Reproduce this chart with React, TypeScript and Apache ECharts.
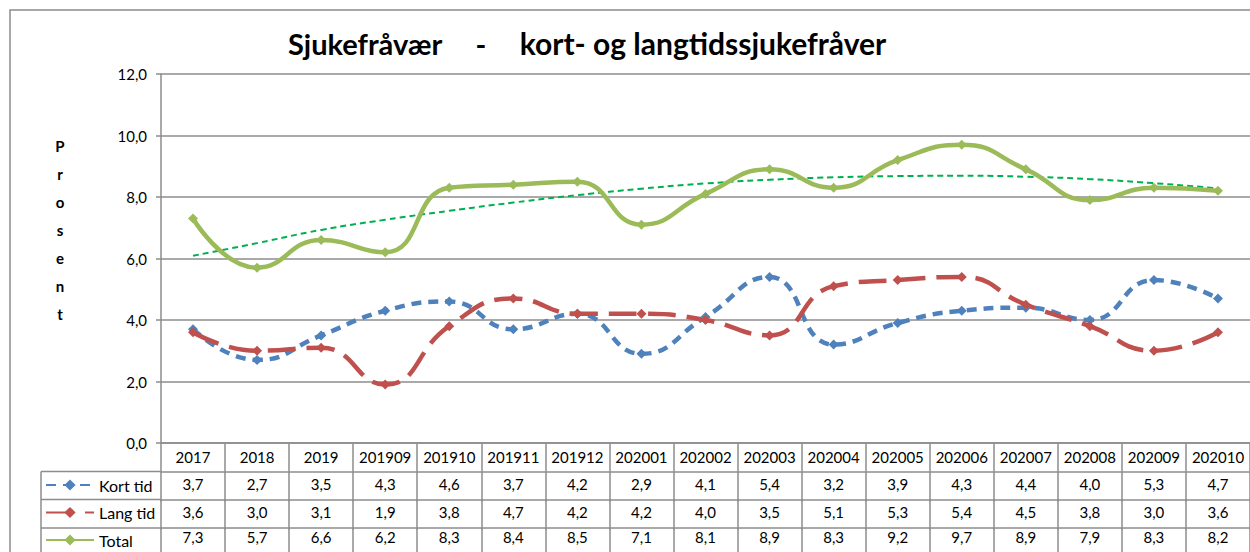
import React, { useEffect, useRef } from "react";
import * as echarts from "echarts";

const categories = ["2017", "2018", "2019", "201909", "201910", "201911", "201912", "202001", "202002", "202003", "202004", "202005", "202006", "202007", "202008", "202009", "202010"];
const kortTid = [3.7, 2.7, 3.5, 4.3, 4.6, 3.7, 4.2, 2.9, 4.1, 5.4, 3.2, 3.9, 4.3, 4.4, 4.0, 5.3, 4.7];
const langTid = [3.6, 3.0, 3.1, 1.9, 3.8, 4.7, 4.2, 4.2, 4.0, 3.5, 5.1, 5.3, 5.4, 4.5, 3.8, 3.0, 3.6];
const total = [7.3, 5.7, 6.6, 6.2, 8.3, 8.4, 8.5, 7.1, 8.1, 8.9, 8.3, 9.2, 9.7, 8.9, 7.9, 8.3, 8.2];
const trend = [6.09, 6.5, 6.93, 7.26, 7.55, 7.82, 8.06, 8.27, 8.44, 8.56, 8.64, 8.68, 8.69, 8.66, 8.58, 8.45, 8.28];
const seriesNames = ["Kort tid", "Lang tid", "Total"];
const yTicks = { min: 0, max: 12, interval: 2 };
const titleParts = ["Sjukefråvær", "-", "kort- og langtidssjukefråver"];
const yName = "Prosent";

const FONT = "Lato, 'Liberation Sans', sans-serif";
const GRAY = "#8c8c8c";
const fmt = (v: number) => v.toFixed(1).replace(".", ",");

export default function App() {
  const ref = useRef<HTMLDivElement>(null);
  useEffect(() => {
    if (!ref.current) return;
    const chart = echarts.init(ref.current, undefined, { renderer: "svg" });
    const gridTop = 74;
    const gridBottomY = 443;
    const rowH = 28.5;
    const rowOffsets = [28.5, 56.5, 85];
    const rowMargins = [5, 5, 1.5];
    const rows = [kortTid, langTid, total];

    const tableAxes = rows.map((arr, i) => ({
      type: "category",
      data: categories,
      position: "bottom",
      offset: rowOffsets[i],
      boundaryGap: true,
      axisLine: { show: true, lineStyle: { color: GRAY, width: 1.5 } },
      axisTick: { show: true, interval: 0, length: 30, lineStyle: { color: GRAY, width: 1.5 } },
      axisLabel: {
        interval: 0,
        margin: rowMargins[i],
        fontSize: 15,
        color: "#000",
        fontFamily: FONT,
        formatter: (_v: string, idx: number) => fmt(arr[idx]),
      },
      splitLine: { show: false },
    }));

    const symbolCommon = { symbol: "diamond", symbolSize: 10, showSymbol: true };

    chart.setOption({
      animation: false,
      backgroundColor: "#fff",
      textStyle: { fontFamily: FONT },
      grid: { left: 161, right: -8, top: gridTop, bottom: 552 - gridBottomY },
      legend: {
        data: seriesNames,
        orient: "vertical",
        left: 45,
        top: 476,
        padding: 0,
        itemWidth: 48,
        itemHeight: 14,
        itemGap: 9.5,
        textStyle: { fontSize: 16, lineHeight: 18, color: "#000", fontFamily: FONT },
      },
      xAxis: [
        {
          type: "category",
          data: categories,
          position: "bottom",
          boundaryGap: true,
          axisLine: { show: true, lineStyle: { color: GRAY, width: 1.5 } },
          axisTick: { show: true, interval: 0, length: rowH, lineStyle: { color: GRAY, width: 1.5 } },
          axisLabel: { interval: 0, margin: 6, fontSize: 15, color: "#000", fontFamily: FONT },
          splitLine: { show: false },
        },
        ...tableAxes,
      ],
      yAxis: {
        type: "value",
        min: yTicks.min,
        max: yTicks.max,
        interval: yTicks.interval,
        axisLine: { show: true, lineStyle: { color: GRAY, width: 1.5 } },
        axisTick: { show: true, length: 5, lineStyle: { color: GRAY, width: 1.5 } },
        axisLabel: { fontSize: 15, color: "#000", margin: 14, fontFamily: FONT, formatter: (v: number) => fmt(v) },
        splitLine: { show: true, lineStyle: { color: GRAY, width: 1.5 } },
      },
      series: [
        {
          name: "Total trend",
          type: "line",
          data: trend,
          smooth: 0.5,
          showSymbol: false,
          symbol: "none",
          lineStyle: { color: "#00B050", width: 2, type: [6, 4] },
          itemStyle: { color: "#00B050" },
          z: 1,
        },
        {
          name: "Kort tid",
          type: "line",
          data: kortTid,
          smooth: 0.5,
          ...symbolCommon,
          lineStyle: { color: "#4F81BD", width: 4.5, type: [10, 7] },
          itemStyle: { color: "#4F81BD" },
          z: 3,
        },
        {
          name: "Lang tid",
          type: "line",
          data: langTid,
          smooth: 0.5,
          ...symbolCommon,
          lineStyle: { color: "#C0504D", width: 4.5, type: [28, 11] },
          itemStyle: { color: "#C0504D" },
          z: 3,
        },
        {
          name: "Total",
          type: "line",
          data: total,
          smooth: 0.5,
          ...symbolCommon,
          lineStyle: { color: "#9BBB59", width: 4.5 },
          itemStyle: { color: "#9BBB59" },
          z: 2,
        },
      ],
      graphic: [
        {
          type: "rect",
          shape: { x: 10, y: 10, width: 1400, height: 700 },
          style: { fill: "none", stroke: GRAY, lineWidth: 1.5 },
          silent: true,
          z: -10,
        },
        {
          type: "line",
          shape: { x1: 41, y1: gridBottomY + rowOffsets[0], x2: 41, y2: 600 },
          style: { stroke: GRAY, lineWidth: 1.5 },
        },
        ...rowOffsets.map((o) => ({
          type: "line",
          shape: { x1: 41, y1: gridBottomY + o, x2: 161, y2: gridBottomY + o },
          style: { stroke: GRAY, lineWidth: 1.5 },
        })),
        {
          type: "text",
          x: 288,
          y: 43,
          style: { text: titleParts[0], fontSize: 29, fontWeight: "bold", fontFamily: FONT, fill: "#000", align: "left", verticalAlign: "middle" },
        },
        {
          type: "text",
          x: 481,
          y: 43,
          style: { text: titleParts[1], fontSize: 29, fontWeight: "bold", fontFamily: FONT, fill: "#000", align: "center", verticalAlign: "middle" },
        },
        {
          type: "text",
          x: 703,
          y: 43,
          style: { text: titleParts[2], fontSize: 30, fontWeight: "bold", fontFamily: FONT, fill: "#000", align: "center", verticalAlign: "middle" },
        },
        {
          type: "text",
          x: 60,
          y: 132,
          style: {
            text: yName.split("").join("\n"),
            fontSize: 15,
            fontWeight: "bold",
            fontFamily: FONT,
            lineHeight: 28,
            fill: "#000",
            align: "center",
          },
        },
      ],
    });
    return () => chart.dispose();
  }, []);
  return <div ref={ref} style={{ position: "fixed", left: 0, top: 0, width: 1250, height: 552 }} />;
}
